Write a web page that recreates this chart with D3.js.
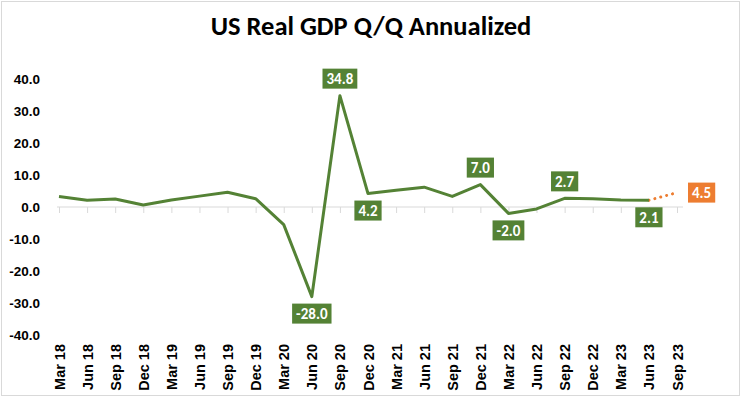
<!DOCTYPE html>
<html>
<head>
<meta charset="utf-8">
<script src="https://cdn.jsdelivr.net/npm/d3@7"></script>
<style>
  body { margin: 0; background: #fff; }
  svg { display: block; font-family: Carlito, Lato, "Open Sans", sans-serif; }
</style>
</head>
<body>
<svg id="chart" width="741" height="398"></svg>
<script>
// quarters on the category axis
var quarters = ["Mar 18", "Jun 18", "Sep 18", "Dec 18", "Mar 19", "Jun 19", "Sep 19", "Dec 19",
    "Mar 20", "Jun 20", "Sep 20", "Dec 20", "Mar 21", "Jun 21", "Sep 21", "Dec 21",
    "Mar 22", "Jun 22", "Sep 22", "Dec 22", "Mar 23", "Jun 23", "Sep 23"];

// reported growth, % annualized (Mar 18 .. Jun 23)
var gdpValues = [3.3, 2.1, 2.5, 0.6, 2.2, 3.4, 4.6, 2.6, -5.5, -28.0, 34.8, 4.2,
    5.2, 6.2, 3.3, 7.0, -2.0, -0.6, 2.7, 2.6, 2.2, 2.1];

// latest estimate (dotted)
var estimateQuarters = ["Jun 23", "Sep 23"];
var estimateValues = [2.1, 4.5];

var yTicks = [-40, -30, -20, -10, 0, 10, 20, 30, 40];

// which points carry a label
var labeledQuarters = ["Jun 20", "Sep 20", "Dec 20", "Dec 21", "Mar 22", "Sep 22", "Jun 23"];
var labelSide = { "Jun 20": "below", "Sep 20": "above", "Dec 20": "below", "Dec 21": "above",
    "Mar 22": "below", "Sep 22": "above", "Jun 23": "below" };

var green = "#548235", orange = "#ED7D31";

// plain hyphen for negatives, like the spreadsheet
var fmt = d3.formatLocale({ decimal: ".", thousands: ",", grouping: [3], currency: ["$", ""], minus: "-" })
    .format(".1f");

var svg = d3.select("#chart");

// chart area border
svg.append("rect")
    .attr("x", 1.5).attr("y", 1.5)
    .attr("width", 738).attr("height", 394)
    .attr("fill", "none")
    .attr("stroke", "#d9d9d9");

svg.append("text")
    .attr("x", 371).attr("y", 35)
    .attr("text-anchor", "middle")
    .style("font-size", "26.5px")
    .style("font-weight", "bold")
    .text("US Real GDP Q/Q Annualized");

var x = d3.scalePoint().domain(quarters).range([59, 677]);
var y = d3.scaleLinear().domain([-40, 40]).range([335, 79]);

var gdpData = gdpValues.map(function(v, i) { return { q: quarters[i], value: v }; });
var estData = estimateValues.map(function(v, i) { return { q: estimateQuarters[i], value: v }; });

// y axis
var yAxis = svg.append("g")
    .attr("transform", "translate(43,0)")
    .call(d3.axisLeft(y).tickValues(yTicks).tickFormat(fmt).tickSize(0));
yAxis.select(".domain").remove();
yAxis.selectAll("text")
    .style("font-size", "13.5px")
    .style("font-weight", "bold")
    .attr("fill", "#000");

// x axis at zero
var xAxis = svg.append("g")
    .attr("transform", "translate(0," + y(0) + ")")
    .call(d3.axisBottom(x).tickSize(6).tickFormat(""));
xAxis.select(".domain").remove();
xAxis.selectAll(".tick line").attr("stroke", "#d9d9d9");
xAxis.append("line")
    .attr("x1", x(quarters[0]) - 2)
    .attr("x2", x(quarters[quarters.length - 1]) + 6)
    .attr("stroke", "#d9d9d9");

// category labels at the bottom
var xLabels = svg.append("g")
    .attr("transform", "translate(0,344)")
    .call(d3.axisBottom(x).tickSize(0));
xLabels.select(".domain").remove();
xLabels.selectAll("text")
    .attr("transform", "rotate(-90)")
    .attr("x", 0).attr("y", 0).attr("dy", "0.35em")
    .style("text-anchor", "end")
    .style("font-size", "14.5px")
    .style("font-weight", "bold")
    .attr("fill", "#000");

var line = d3.line()
    .x(function(d) { return x(d.q); })
    .y(function(d) { return y(d.value); });

svg.append("path")
    .datum(estData)
    .attr("d", line)
    .attr("fill", "none")
    .attr("stroke", orange)
    .attr("stroke-width", 3)
    .attr("stroke-linecap", "round")
    .attr("stroke-dasharray", "0.1 6");

svg.append("path")
    .datum(gdpData)
    .attr("d", line)
    .attr("fill", "none")
    .attr("stroke", green)
    .attr("stroke-width", 3)
    .attr("stroke-linejoin", "round");

// data labels
function addLabel(px, py, txt, fill, anchor) {
    var g = svg.append("g");
    var t = g.append("text")
        .attr("fill", "#fff")
        .style("font-size", "15px")
        .style("font-weight", "bold")
        .attr("text-anchor", "middle")
        .attr("dy", "0.35em")
        .text(txt);
    var w = t.node().getComputedTextLength() + 8, h = 20;
    var cx = px, cy = py;
    if (anchor === "above") cy = py - 7 - h / 2;
    if (anchor === "below") cy = py + 7 + h / 2;
    if (anchor === "right") cx = px + 11 + w / 2;
    g.insert("rect", "text")
        .attr("x", cx - w / 2).attr("y", cy - h / 2)
        .attr("width", w).attr("height", h)
        .attr("fill", fill);
    t.attr("x", cx).attr("y", cy);
}

gdpData.filter(function(d) { return labeledQuarters.indexOf(d.q) >= 0; })
    .forEach(function(d) {
        addLabel(x(d.q), y(d.value), fmt(d.value), green, labelSide[d.q]);
    });

var last = estData[estData.length - 1];
addLabel(x(last.q), y(last.value), fmt(last.value), orange, "right");
</script>
</body>
</html>
